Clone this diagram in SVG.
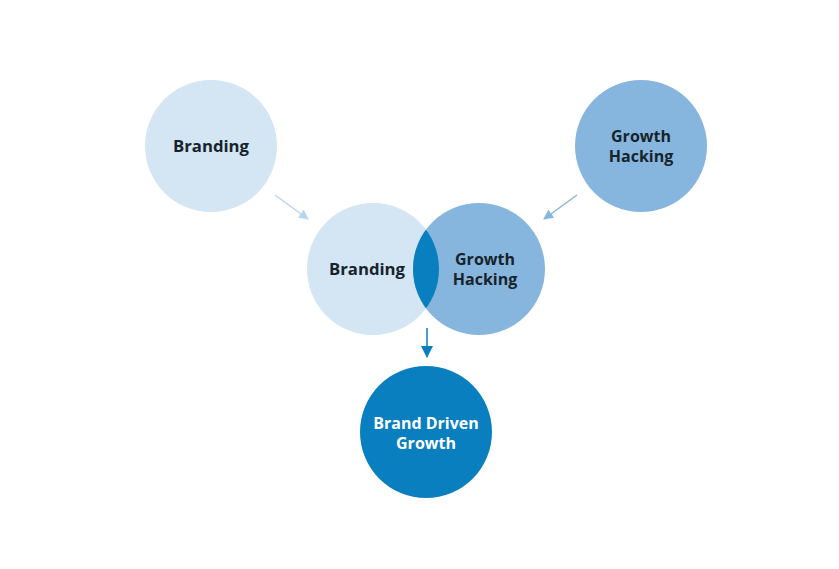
<svg xmlns="http://www.w3.org/2000/svg" width="839" height="569" viewBox="0 0 839 569">
<style>
.t{font-family:"Open Sans","Liberation Sans",sans-serif;font-weight:700;font-size:16px;text-anchor:middle;fill:#17232b}
.w{fill:#ffffff}
.light{fill:#d4e5f3}
.mid{fill:#86b6dd}
.dark{fill:#0a7fbf}
</style>
<defs>
<marker id="aL" markerWidth="10" markerHeight="10" refX="9" refY="5" orient="auto" markerUnits="userSpaceOnUse"><path d="M0,0 L10,5 L0,10 z" fill="#b8d5ee"/></marker>
<marker id="aM" markerWidth="10" markerHeight="10" refX="9" refY="5" orient="auto" markerUnits="userSpaceOnUse"><path d="M0,0 L10,5 L0,10 z" fill="#86b6dd"/></marker>
<marker id="aD" markerWidth="12" markerHeight="12" refX="11" refY="6" orient="auto" markerUnits="userSpaceOnUse"><path d="M0,0 L12,6 L0,12 z" fill="#0a7fbf"/></marker>
<clipPath id="cL"><circle cx="373" cy="269" r="66"/></clipPath>
</defs>
<rect width="839" height="569" fill="#ffffff"/>
<g id="connectors">
<line x1="275" y1="195" x2="308" y2="219" stroke="#b8d5ee" stroke-width="1.5" marker-end="url(#aL)"/>
<line x1="577" y1="195" x2="544" y2="219" stroke="#86b6dd" stroke-width="1.5" marker-end="url(#aM)"/>
<line x1="427" y1="328" x2="427" y2="357" stroke="#0a7fbf" stroke-width="1.5" marker-end="url(#aD)"/>
</g>
<g id="branding-top">
<circle class="light" cx="211" cy="146" r="66"/>
<text class="t" x="211" y="152" textLength="76" lengthAdjust="spacingAndGlyphs">Branding</text>
</g>
<g id="growth-top">
<circle class="mid" cx="641" cy="146" r="66"/>
<text class="t" x="641" y="142">Growth</text>
<text class="t" x="641" y="162">Hacking</text>
</g>
<g id="branding-mid">
<circle class="light" cx="373" cy="269" r="66"/>
<text class="t" x="367" y="275" textLength="76" lengthAdjust="spacingAndGlyphs">Branding</text>
</g>
<g id="growth-mid">
<circle class="mid" cx="479" cy="269" r="66"/>
<circle class="dark" cx="479" cy="269" r="66" clip-path="url(#cL)"/>
<text class="t" x="485" y="265">Growth</text>
<text class="t" x="485" y="285">Hacking</text>
</g>
<g id="brand-driven-growth">
<circle class="dark" cx="426" cy="432" r="66"/>
<text class="t w" x="426" y="429">Brand Driven</text>
<text class="t w" x="426" y="449">Growth</text>
</g>
</svg>
